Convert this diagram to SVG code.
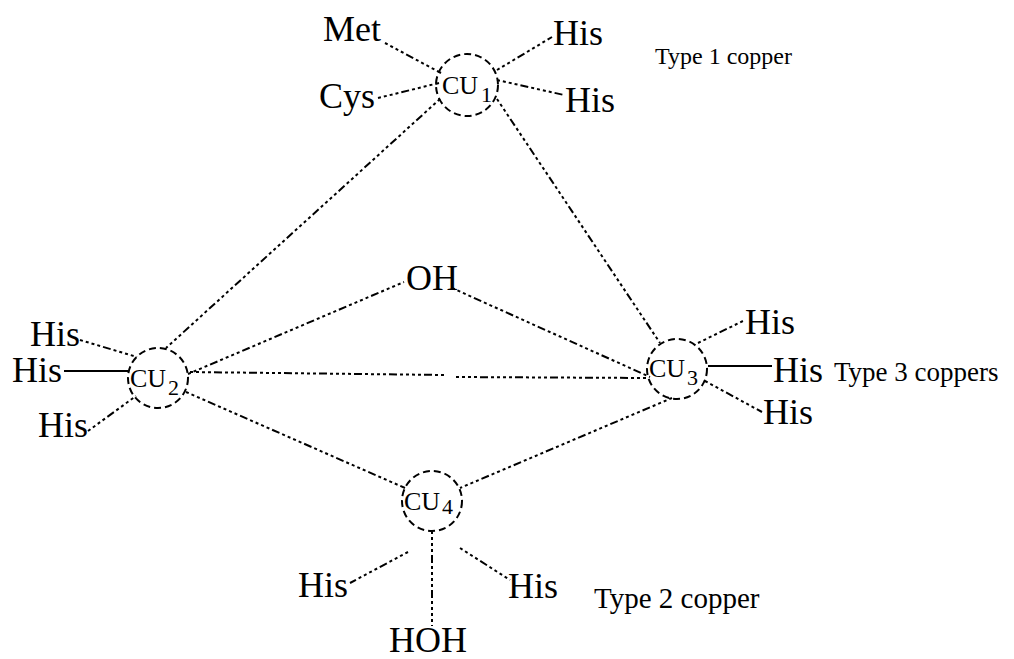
<svg xmlns="http://www.w3.org/2000/svg" width="1014" height="659" viewBox="0 0 1014 659">
<style>
text{font-family:"Liberation Serif","Times New Roman",serif;fill:#000}
.big{font-size:36px}
.cu{font-size:26px}
.sub{font-size:22px}
.lbl{font-size:24px}
.dot{stroke:#000;stroke-width:2;fill:none;stroke-dasharray:3 3 3 3 3 3 3 3 8 3}
.solid{stroke:#000;stroke-width:2;fill:none}
.ring{stroke:#000;stroke-width:2;fill:none;stroke-dasharray:7 4}
</style>
<rect width="1014" height="659" fill="#fff"/>
<g id="connectors">
<line class="dot" x1="385" y1="43" x2="441" y2="73"/>
<line class="dot" x1="378" y1="98" x2="439" y2="83"/>
<line class="dot" x1="497" y1="70" x2="552" y2="37"/>
<line class="dot" x1="497" y1="80" x2="564" y2="95"/>
<line class="dot" x1="440" y1="99" x2="166" y2="348"/>
<line class="dot" x1="497" y1="99" x2="660" y2="343"/>
<line class="dot" x1="188" y1="374" x2="404" y2="282"/>
<line class="dot" x1="452" y1="288" x2="650" y2="377"/>
<line class="dot" x1="190" y1="372" x2="445" y2="375"/>
<line class="dot" x1="456" y1="377" x2="648" y2="378"/>
<line class="dot" x1="186" y1="392" x2="405" y2="488"/>
<line class="dot" x1="672" y1="398" x2="460" y2="488"/>
<line class="dot" x1="80" y1="340" x2="137" y2="357"/>
<line class="solid" x1="64" y1="371" x2="128" y2="371"/>
<line class="dot" x1="88" y1="431" x2="136" y2="396"/>
<line class="dot" x1="698" y1="343" x2="745" y2="320"/>
<line class="solid" x1="708" y1="366" x2="772" y2="366"/>
<line class="dot" x1="705" y1="381" x2="762" y2="412"/>
<line class="dot" x1="408" y1="552" x2="350" y2="583"/>
<line class="dot" x1="460" y1="548" x2="510" y2="580"/>
<line class="dot" x1="432" y1="531" x2="432" y2="626"/>
</g>
<g id="cu1"><circle class="ring" cx="467" cy="85" r="31"/><text class="cu" x="442" y="94">CU</text><text class="sub" x="481" y="102">1</text></g>
<g id="cu2"><circle class="ring" cx="158" cy="378" r="30"/><text class="cu" x="130" y="387">CU</text><text class="sub" x="168" y="395">2</text></g>
<g id="cu3"><circle class="ring" cx="677" cy="369" r="30"/><text class="cu" x="649" y="377">CU</text><text class="sub" x="687" y="385">3</text></g>
<g id="cu4"><circle class="ring" cx="432" cy="501" r="30"/><text class="cu" x="404" y="510">CU</text><text class="sub" x="442" y="514">4</text></g>
<g id="met"><text class="big" x="323" y="41">Met</text></g>
<g id="cys"><text class="big" x="319" y="108">Cys</text></g>
<g id="his1a"><text class="big" x="553" y="45">His</text></g>
<g id="his1b"><text class="big" x="565" y="112">His</text></g>
<g id="type1"><text class="lbl" x="655" y="64">Type 1 copper</text></g>
<g id="oh"><text class="big" x="406" y="290">OH</text></g>
<g id="his2a"><text class="big" x="30" y="346">His</text></g>
<g id="his2b"><text class="big" x="12" y="382">His</text></g>
<g id="his2c"><text class="big" x="38" y="437">His</text></g>
<g id="his3a"><text class="big" x="745" y="334">His</text></g>
<g id="his3b"><text class="big" x="773" y="382">His</text></g>
<g id="type3"><text class="lbl" x="834" y="381" style="font-size:27px">Type 3 coppers</text></g>
<g id="his3c"><text class="big" x="763" y="424">His</text></g>
<g id="his4a"><text class="big" x="298" y="597">His</text></g>
<g id="his4b"><text class="big" x="508" y="598">His</text></g>
<g id="type2"><text class="lbl" x="594" y="608" style="font-size:29px">Type 2 copper</text></g>
<g id="hoh"><text class="big" x="389" y="652">HOH</text></g>
</svg>
